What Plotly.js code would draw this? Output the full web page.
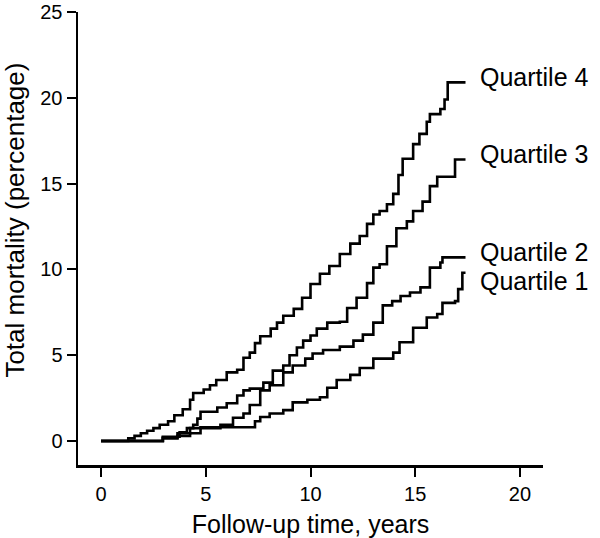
<!DOCTYPE html>
<html>
<head>
<meta charset="utf-8">
<script src="https://cdn.plot.ly/plotly-3.0.1.min.js"></script>
<style>
  html, body { margin: 0; padding: 0; background: #fff; }
  #chart { width: 600px; height: 538px; }
</style>
</head>
<body>
<div id="chart"></div>
<script>
// Cumulative total mortality (%) by follow-up time (years), step curves
const q4Years = [0, 1.3, 1.6, 1.9, 2.2, 2.5, 2.8, 3.2, 3.5, 3.9, 4.25, 4.4, 4.9, 5.2, 5.5, 6.0, 6.5, 6.8, 7.1, 7.35, 7.6, 8.1, 8.4, 8.7, 9.2, 9.6, 10.0, 10.45, 10.9, 11.4, 11.9, 12.35, 12.7, 13.0, 13.3, 13.65, 13.95, 14.2, 14.4, 14.9, 15.2, 15.55, 15.7, 16.2, 16.4, 16.55, 17.4];
const q4Pct   = [0, 0.15, 0.3, 0.45, 0.6, 0.75, 0.95, 1.15, 1.5, 1.85, 2.4, 2.8, 3.0, 3.25, 3.55, 4.0, 4.15, 4.85, 5.15, 5.7, 6.1, 6.55, 6.9, 7.3, 7.7, 8.35, 9.15, 9.75, 10.2, 10.9, 11.5, 11.95, 12.65, 13.2, 13.4, 13.8, 14.4, 15.5, 16.45, 17.3, 17.9, 18.6, 19.05, 19.35, 19.9, 20.9, 20.9];

const q3Years = [0, 2.35, 2.95, 3.75, 4.1, 4.4, 4.6, 4.75, 5.55, 6.0, 6.5, 6.8, 7.1, 7.75, 8.2, 8.7, 9.0, 9.35, 9.65, 10.0, 10.3, 10.8, 11.4, 11.75, 12.2, 12.7, 13.0, 13.3, 13.65, 14.1, 14.6, 14.9, 15.35, 15.7, 16.05, 16.9, 17.4];
const q3Pct   = [0, 0, 0.25, 0.5, 0.75, 0.95, 1.3, 1.7, 1.95, 2.2, 2.65, 2.95, 3.05, 3.4, 4.1, 4.4, 5.0, 5.45, 5.85, 6.15, 6.55, 6.9, 6.95, 7.75, 8.35, 9.2, 10.1, 10.3, 11.35, 12.4, 12.8, 13.4, 13.95, 14.85, 15.4, 16.4, 16.4];

const q2Years = [0, 2.35, 2.95, 3.65, 4.25, 4.75, 5.7, 6.3, 6.8, 7.1, 7.6, 8.05, 8.7, 9.15, 9.75, 10.1, 10.6, 11.4, 12.05, 12.5, 13.0, 13.45, 13.9, 14.3, 14.75, 15.25, 15.7, 16.2, 16.3, 17.4];
const q2Pct   = [0, 0, 0.15, 0.3, 0.45, 0.75, 0.95, 1.35, 1.6, 2.1, 2.95, 3.25, 4.0, 4.4, 4.8, 5.1, 5.3, 5.5, 5.85, 6.2, 6.9, 7.9, 8.15, 8.45, 8.65, 8.95, 10.1, 10.4, 10.7, 10.7];

const q1Years = [0, 2.95, 3.65, 4.25, 4.75, 7.35, 7.6, 8.05, 8.7, 9.15, 9.85, 10.45, 10.8, 11.25, 11.9, 12.35, 13.0, 13.95, 14.25, 14.9, 15.55, 16.05, 16.3, 16.9, 17.05, 17.25, 17.4];
const q1Pct   = [0, 0.2, 0.45, 0.75, 0.8, 1.15, 1.4, 1.6, 1.8, 2.25, 2.4, 2.55, 3.1, 3.55, 3.85, 4.25, 4.8, 5.15, 5.75, 6.6, 7.2, 7.4, 8.05, 8.15, 8.85, 9.8, 9.8];

const groupNames = ['Quartile 4', 'Quartile 3', 'Quartile 2', 'Quartile 1'];
const labelY = [21.2, 16.75, 11.0, 9.3];

const series = [[q4Years, q4Pct], [q3Years, q3Pct], [q2Years, q2Pct], [q1Years, q1Pct]];

const traces = series.map((s, i) => ({
    x: s[0],
    y: s[1],
    name: groupNames[i],
    type: 'scatter',
    mode: 'lines',
    line: { shape: 'hv', color: '#000', width: 2.6 },
    hoverinfo: 'x+y+name'
}));

const font = 'Liberation Sans, Arial, Helvetica, sans-serif';

const annotations = groupNames.map((name, i) => ({
    x: 18.0, y: labelY[i], xref: 'x', yref: 'y',
    text: name, showarrow: false,
    xanchor: 'left', yanchor: 'middle',
    font: { family: font, size: 25, color: '#000' }
}));

// y title as an annotation so it sits where the original has it
annotations.push({
    x: -0.135, y: 0.54, xref: 'paper', yref: 'paper',
    text: 'Total mortality (percentage)', showarrow: false,
    textangle: -90, xanchor: 'center', yanchor: 'middle',
    font: { family: font, size: 26, color: '#000' }
});

const layout = {
    width: 600,
    height: 538,
    margin: { l: 78, r: 57, t: 12, b: 73 },
    paper_bgcolor: '#fff',
    plot_bgcolor: '#fff',
    showlegend: false,
    font: { family: font, color: '#000' },
    xaxis: {
        range: [-1.1, 21.1],
        tickvals: [0, 5, 10, 15, 20],
        ticks: 'outside', ticklen: 9, tickwidth: 2, tickcolor: '#000',
        showline: true, linewidth: 2.5, linecolor: '#000',
        showgrid: false, zeroline: false,
        tickfont: { family: font, size: 20, color: '#000' },
        title: { text: 'Follow-up time, years', font: { family: font, size: 25, color: '#000' }, standoff: 14 }
    },
    yaxis: {
        range: [-1.4, 25],
        tickvals: [0, 5, 10, 15, 20, 25],
        ticks: 'outside', ticklen: 9, tickwidth: 2, tickcolor: '#000',
        showline: true, linewidth: 2.5, linecolor: '#000',
        showgrid: false, zeroline: false,
        tickfont: { family: font, size: 20, color: '#000' }
    },
    annotations: annotations
};

Plotly.newPlot('chart', traces, layout, { displayModeBar: false, staticPlot: true });
</script>
</body>
</html>
